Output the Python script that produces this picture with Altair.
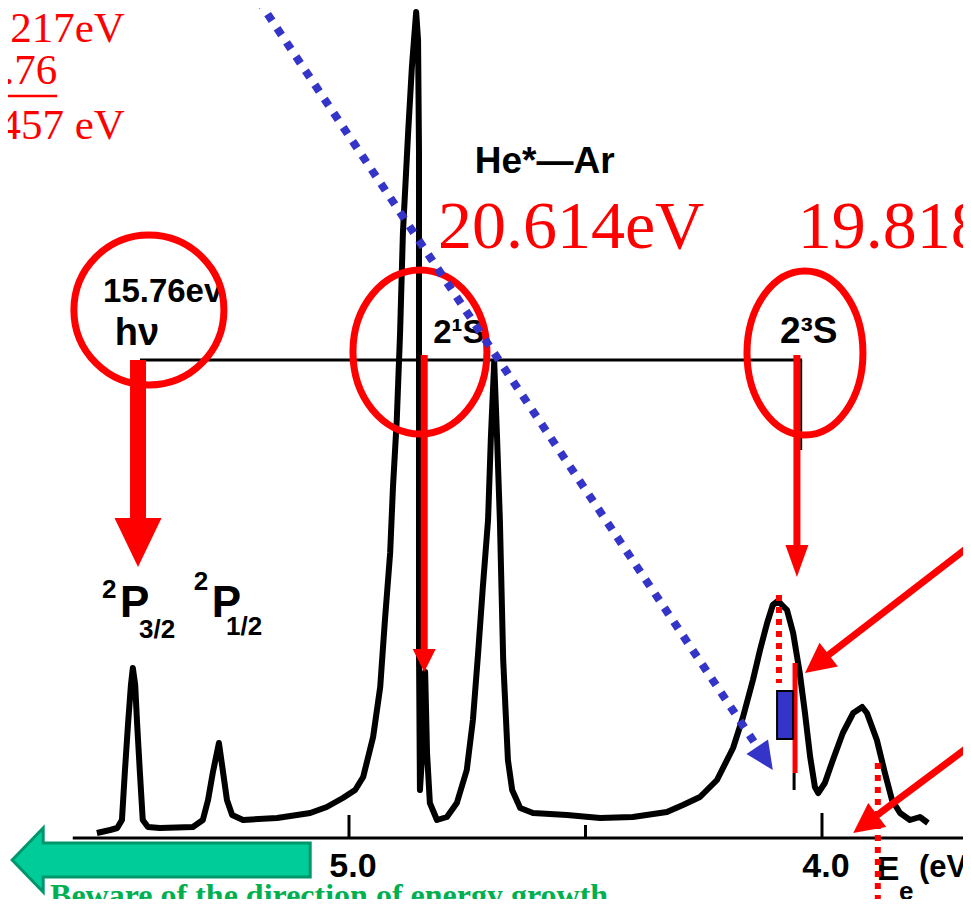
import math
import altair as alt
import pandas as pd

# ---------------- spectrum (electron energy in eV, intensity arb. units) ----------------
energy_eV = [5.533, 5.505, 5.490, 5.480, 5.474, 5.467, 5.461, 5.457, 5.452, 5.448,
             5.442, 5.436, 5.425, 5.400, 5.330, 5.309, 5.298, 5.288, 5.275, 5.266,
             5.258, 5.247, 5.224, 5.152, 5.082, 5.047, 5.013, 4.987, 4.970, 4.949,
             4.934, 4.924, 4.913, 4.907, 4.899, 4.892, 4.886, 4.875, 4.867, 4.858,
             4.854, 4.852, 4.852, 4.852, 4.850, 4.846, 4.839, 4.835, 4.829, 4.814,
             4.793, 4.772, 4.751, 4.738, 4.727, 4.717, 4.706, 4.700, 4.693, 4.687,
             4.681, 4.674, 4.668, 4.664, 4.655, 4.638, 4.611, 4.539, 4.469, 4.400,
             4.328, 4.294, 4.258, 4.222, 4.188, 4.167, 4.146, 4.131, 4.116, 4.104,
             4.093, 4.074, 4.061, 4.047, 4.036, 4.025, 4.015, 4.008, 3.994, 3.977,
             3.956, 3.934, 3.915, 3.905, 3.884, 3.867, 3.852, 3.835, 3.814, 3.793,
             3.776]
intensity = [0.5, 0.8, 1.0, 1.8, 6.5, 11.5, 15.3, 17.0, 15.3, 11.5,
             6.5, 1.8, 1.1, 1.0, 1.1, 1.8, 3.8, 6.5, 9.5, 6.5,
             3.8, 2.3, 1.8, 2.0, 2.5, 3.1, 4.0, 4.8, 6.1, 10.1,
             15.1, 21.8, 28.5, 35.1, 41.8, 50.5, 60.5, 70.5, 77.1, 82.6,
             79.8, 68.8, 43.8, 18.8, 4.8, 7.8, 16.6, 8.5, 3.5, 1.8,
             2.1, 3.5, 6.8, 11.8, 18.5, 25.1, 31.8, 40.1, 47.6, 40.1,
             31.8, 17.8, 11.8, 7.8, 4.8, 3.0, 2.5, 2.3, 2.0, 2.1,
             2.6, 3.3, 4.1, 5.8, 9.0, 12.1, 15.8, 18.8, 21.5, 23.3,
             23.7, 22.8, 20.5, 16.5, 12.5, 8.1, 5.1, 4.5, 5.5, 7.8,
             10.5, 12.5, 13.1, 12.5, 9.8, 6.5, 3.8, 2.5, 1.8, 2.1,
             1.5]

axis_labels = [5.0, 4.0]
axis_label_text = ["5.0", "4.0"]
tick_positions = [5.0, 4.5, 4.0]
tick_heights = [2.3, 1.3, 2.5]

# black hand-lettered labels: text, energy (left edge), intensity (baseline), size
black_text = ["15.76ev", "hν", "He*—Ar", "2¹S", "2³S", "2", "P", "3/2", "2", "P", "1/2", "E", "e", "(eV"]
black_E = [5.520, 5.495, 4.734, 4.822, 4.089, 5.522, 5.484, 5.444, 5.328, 5.290, 5.260, 3.884, 3.837, 3.795]
black_I = [53.6, 49.3, 66.5, 49.5, 49.5, 24.0, 22.1, 20.0, 24.8, 22.1, 20.3, -4.2, -6.2, -3.9]
black_size = [33, 38, 37, 33, 37, 26, 44, 26, 26, 44, 26, 34, 26, 31]

# red labels
red_right_text = ["21.217eV", "15.76", "5.457 eV"]
red_right_E = [5.474, 5.617, 5.474]
red_right_I = [79.6, 75.4, 69.9]
red_left_text = ["20.614eV", "19.818eV"]
red_left_E = [4.812, 4.051]
red_left_I = [59.0, 59.0]

green_text = "Beware of the direction of energy growth"

# ---------------- scales ----------------
PX_PER_EV = 473.0
PX_PER_UNIT = 10.0
xs = alt.Scale(domain=[3.7019, 5.7209], reverse=True, nice=False, zero=False)
ys = alt.Scale(domain=[0, 83], nice=False, zero=False)

RED = "#FF0000"
BLUE = "#3434C8"
SANS = "Liberation Sans, Arial, sans-serif"
SERIF = "Liberation Serif, Times New Roman, serif"


def xenc(f="E"):
    return alt.X(f"{f}:Q", scale=xs, axis=None)


def yenc(f="I"):
    return alt.Y(f"{f}:Q", scale=ys, axis=None)


def seg(e0, i0, e1, i1, **kw):
    df = pd.DataFrame({"E": [e0], "I": [i0], "E2": [e1], "I2": [i1]})
    return alt.Chart(df).mark_rule(**kw).encode(
        x=xenc(), y=yenc(), x2="E2:Q", y2="I2:Q")


def arrow(e0, i0, e1, i1, color, shaft_w, head_len, head_w, dash=None):
    dx = -(e1 - e0) * PX_PER_EV
    dy = -(i1 - i0) * PX_PER_UNIT
    L = math.hypot(dx, dy)
    f = (head_len - 2) / L
    es = e1 - (e1 - e0) * f
    is_ = i1 - (i1 - i0) * f
    ang = (math.degrees(math.atan2(dy, dx)) - 90) % 360
    kw = dict(color=color, strokeWidth=shaft_w, strokeCap="butt")
    if dash:
        kw["strokeDash"] = dash
    shaft = seg(e0, i0, es, is_, **kw)
    r = head_w / 2.0 / head_len
    path = f"M{-r:.3f},-1L{r:.3f},-1L0,0Z"
    head = alt.Chart(pd.DataFrame({"E": [e1], "I": [i1]})).mark_point(
        shape=path, filled=True, color=color, opacity=1, strokeWidth=0,
        size=(2 * head_len) ** 2, angle=round(ang, 2)).encode(x=xenc(), y=yenc())
    return [shaft, head]


def ellipse(e, i, rx, ry, color, width):
    a = rx / ry
    k = 0.5523
    path = (f"M0,-1C{a*k:.3f},-1 {a:.3f},-{k} {a:.3f},0C{a:.3f},{k} {a*k:.3f},1 0,1"
            f"C{-a*k:.3f},1 {-a:.3f},{k} {-a:.3f},0C{-a:.3f},-{k} {-a*k:.3f},-1 0,-1Z")
    return alt.Chart(pd.DataFrame({"E": [e], "I": [i]})).mark_point(
        shape=path, filled=False, color=color, opacity=1, strokeWidth=width,
        size=(2 * ry) ** 2).encode(x=xenc(), y=yenc())


layers = []

# axis line, inward ticks, tick labels
layers.append(seg(5.584, 0, 3.7019, 0, color="black", strokeWidth=3))
ticks_df = pd.DataFrame({"E": tick_positions, "I": [0] * 3, "I2": tick_heights})
layers.append(alt.Chart(ticks_df).mark_rule(color="black", strokeWidth=3).encode(
    x=xenc(), y=yenc(), y2="I2:Q"))
lab_df = pd.DataFrame({"E": axis_labels, "t": axis_label_text, "I": [-3.9, -3.9]})
layers.append(alt.Chart(lab_df).mark_text(
    align="center", baseline="alphabetic", font=SANS, fontWeight="bold", fontSize=34,
    color="black", dx=4).encode(x=xenc(), y=yenc(), text="t:N"))

# horizontal level line and verticals
layers.append(seg(5.442, 47.8, 4.042, 47.8, color="black", strokeWidth=3))
layers.append(seg(4.044, 47.8, 4.044, 38.8, color="black", strokeWidth=2))
layers.append(seg(4.059, 6.5, 4.059, 4.8, color="black", strokeWidth=3))

# spectrum
spec = pd.DataFrame({"E": energy_eV, "I": intensity, "idx": range(len(energy_eV))})
layers.append(alt.Chart(spec).mark_line(color="black", strokeWidth=6, strokeJoin="round").encode(
    x=xenc(), y=yenc(), order="idx:Q"))

# black labels
bt = pd.DataFrame({"t": black_text, "E": black_E, "I": black_I, "s": black_size})
layers.append(alt.Chart(bt).mark_text(
    align="left", baseline="alphabetic", font=SANS, fontWeight="bold", color="black").encode(
    x=xenc(), y=yenc(), text="t:N", size=alt.Size("s:Q", scale=None)))

# red circles
layers.append(ellipse(5.423, 52.8, 75, 75, RED, 7))
layers.append(ellipse(4.850, 48.6, 67, 82, RED, 7))
layers.append(ellipse(4.036, 48.5, 58, 82, RED, 7))

# red arrows
layers += arrow(5.446, 47.8, 5.446, 27.1, RED, 16, 49, 47)
layers += arrow(4.841, 48.3, 4.841, 16.6, RED, 7, 23, 23)
layers += arrow(4.053, 48.3, 4.053, 26.1, RED, 7, 32, 23)
layers += arrow(3.685, 29.3, 4.036, 16.5, RED, 7, 30, 30)
layers += arrow(3.685, 9.3, 3.934, 0.5, RED, 7, 30, 30)

# red marker lines
layers.append(seg(4.057, 17.5, 4.057, 6.5, color=RED, strokeWidth=5))
layers.append(seg(4.091, 24.3, 4.091, 15.5, color=RED, strokeWidth=6, strokeDash=[6, 6]))
layers.append(seg(3.882, 7.5, 3.882, -6.9, color=RED, strokeWidth=6, strokeDash=[6, 6]))

# blue dotted arrow and box
layers += arrow(5.192, 83.8, 4.104, 6.8, BLUE, 8, 28, 26, dash=[8, 9])
box = pd.DataFrame({"E": [4.095], "E2": [4.061], "I": [14.7], "I2": [9.9]})
layers.append(alt.Chart(box).mark_rect(color=BLUE, stroke="black", strokeWidth=2).encode(
    x=xenc(), x2="E2:Q", y=yenc(), y2="I2:Q"))

# red texts
rr = pd.DataFrame({"t": red_right_text, "E": red_right_E, "I": red_right_I})
layers.append(alt.Chart(rr).mark_text(
    align="right", baseline="alphabetic", font=SERIF, fontSize=43, color=RED).encode(
    x=xenc(), y=yenc(), text="t:N"))
layers.append(seg(5.75, 74.2, 5.617, 74.2, color=RED, strokeWidth=2.5))
rl = pd.DataFrame({"t": red_left_text, "E": red_left_E, "I": red_left_I})
layers.append(alt.Chart(rl).mark_text(
    align="left", baseline="alphabetic", font=SERIF, fontSize=68, color=RED).encode(
    x=xenc(), y=yenc(), text="t:N"))

# green arrow + warning
gpath = "M-1,0L-0.792,-0.215L-0.792,-0.114L1,-0.114L1,0.114L-0.792,0.114L-0.792,0.215Z"
layers.append(alt.Chart(pd.DataFrame({"E": [5.397], "I": [-2.2]})).mark_point(
    shape=gpath, filled=True, fill="#00CC99", stroke="#00966C", strokeWidth=3,
    opacity=1, size=(2 * 149) ** 2).encode(x=xenc(), y=yenc()))
layers.append(alt.Chart(pd.DataFrame({"t": [green_text], "E": [5.632], "I": [-6.75]})).mark_text(
    align="left", baseline="alphabetic", font=SERIF, fontWeight="bold", fontSize=32,
    color="#00B050").encode(x=xenc(), y=yenc(), text="t:N"))

chart = alt.layer(*layers).properties(
    width=955, height=830,
    autosize=alt.AutoSizeParams(type="none"),
    padding={"left": 0, "top": 0, "right": 0, "bottom": 61},
    background="white",
).configure_view(stroke=None)

chart.save("out.html", embed_options={"renderer": "svg", "actions": False})
